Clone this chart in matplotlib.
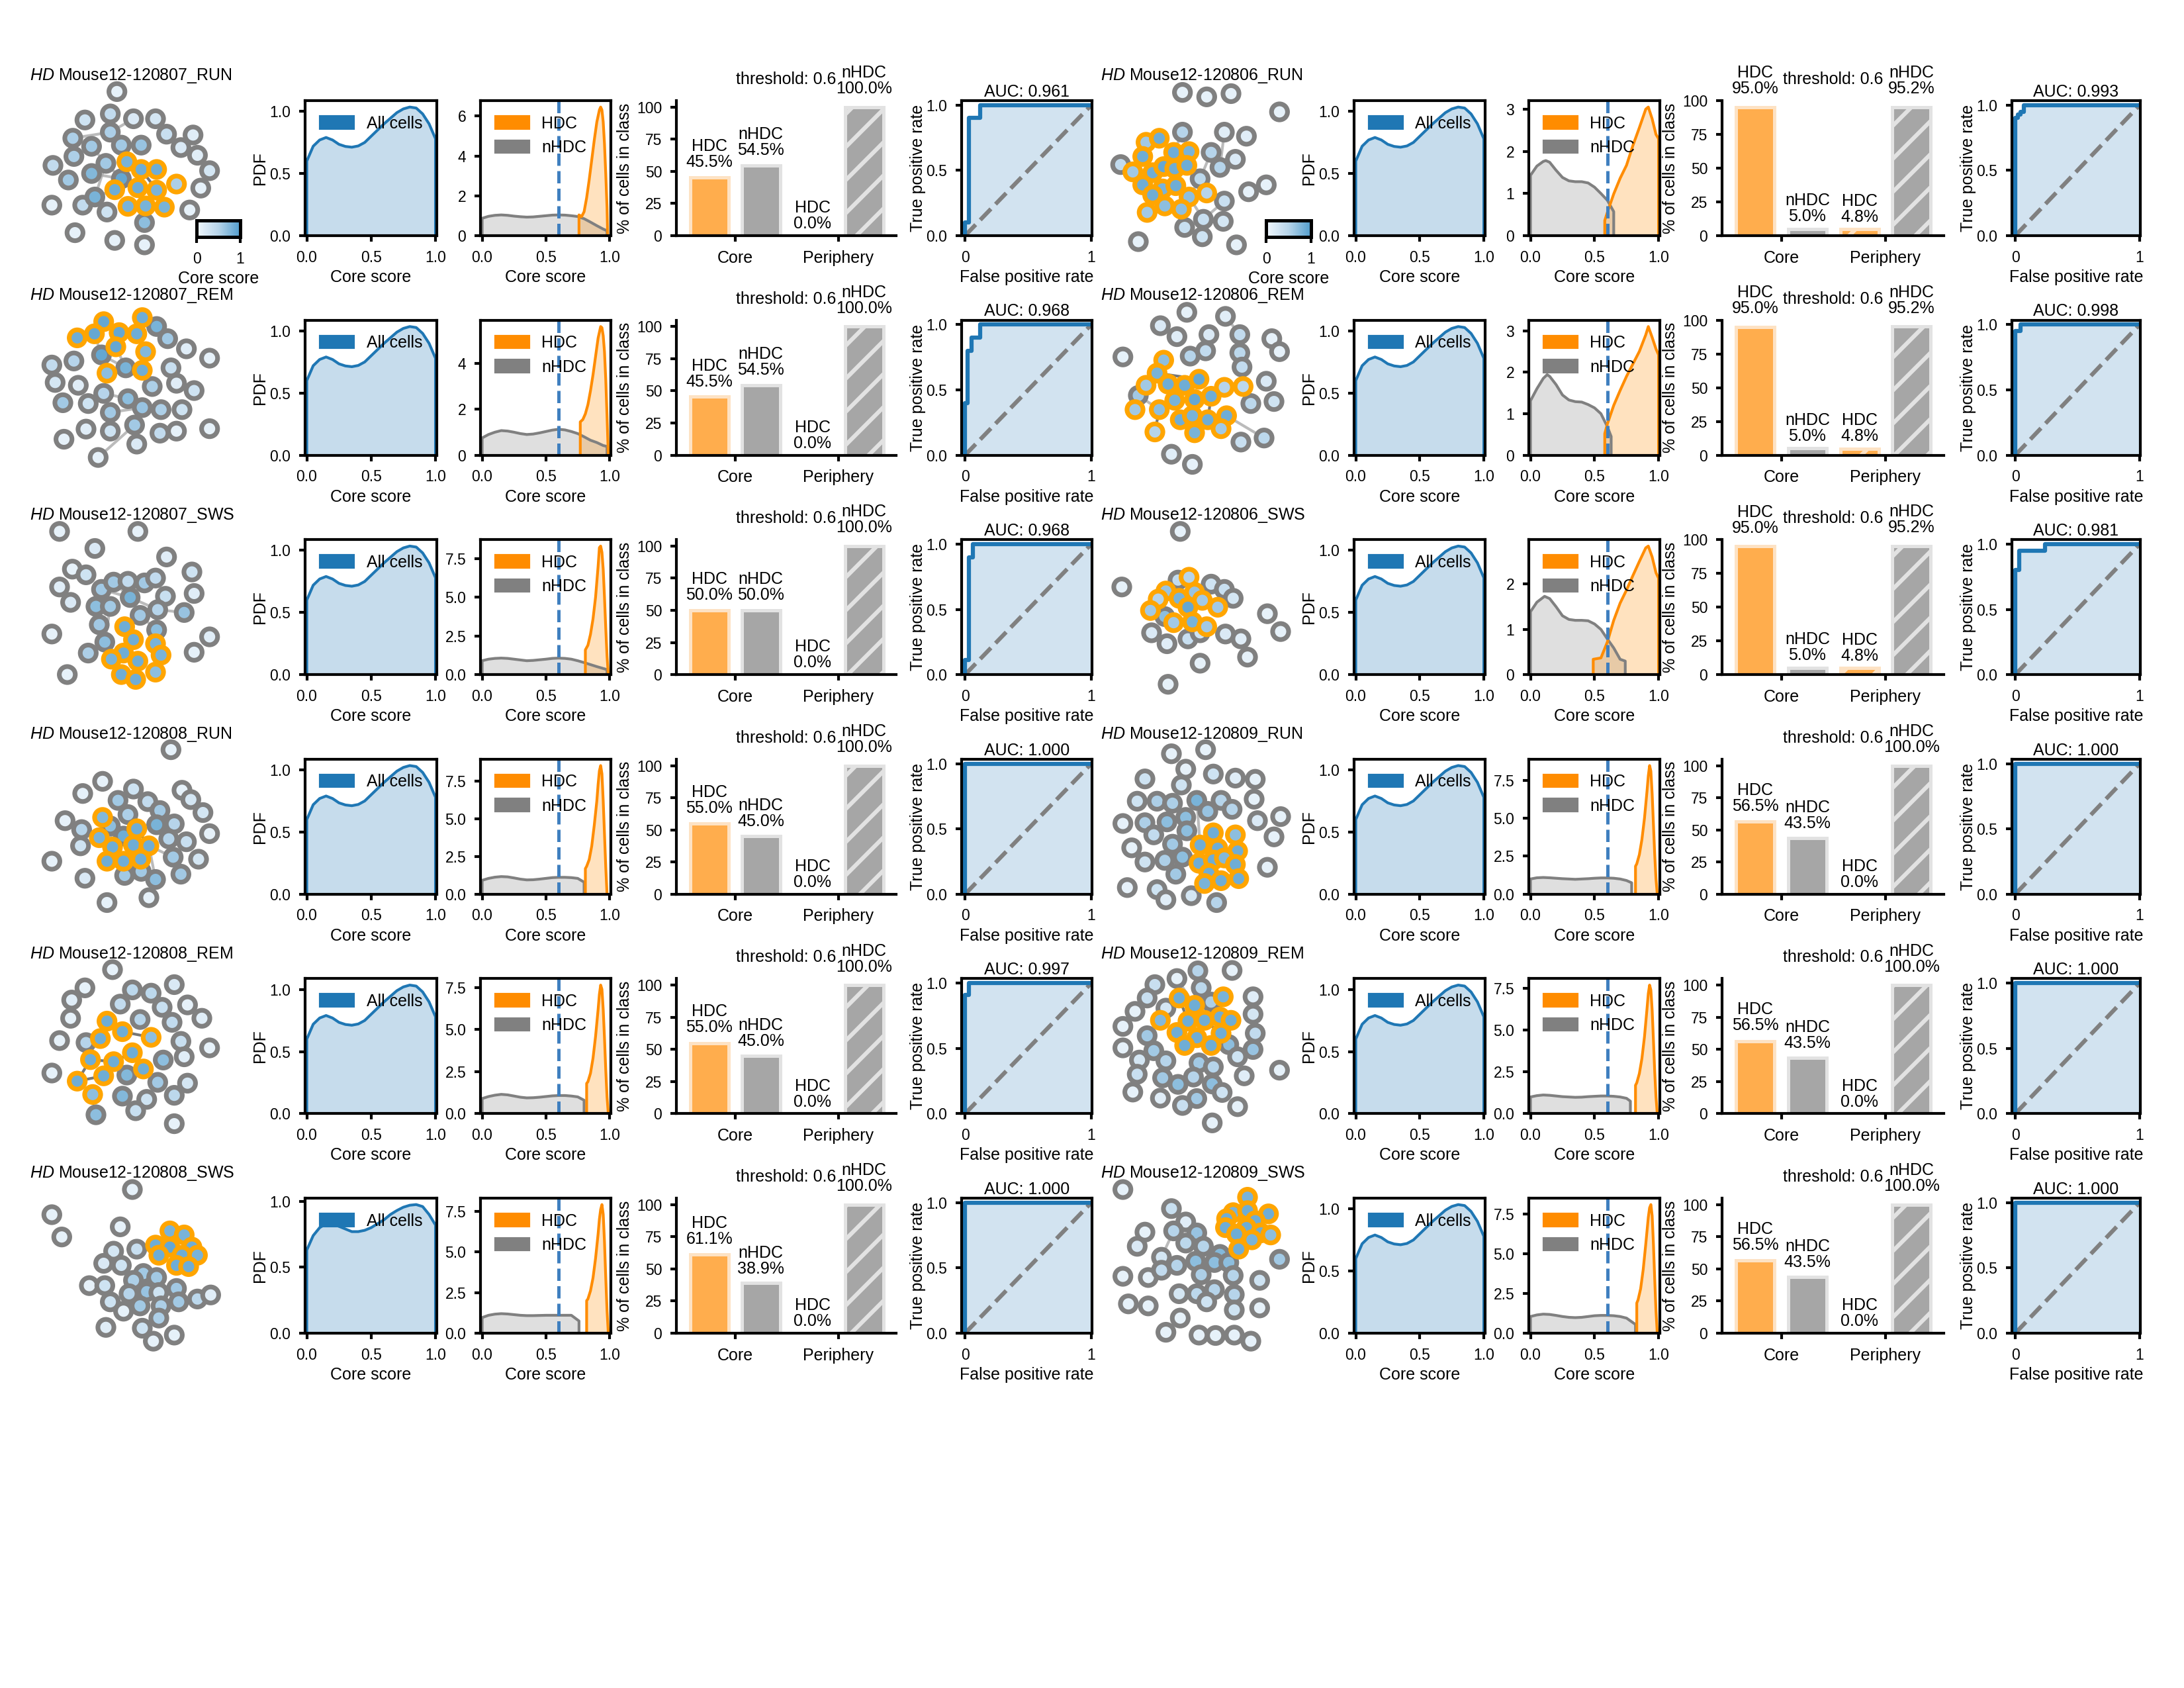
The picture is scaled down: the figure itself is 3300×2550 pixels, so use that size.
import matplotlib
matplotlib.use("Agg")
import matplotlib.pyplot as plt
import numpy as np
from matplotlib.colors import LinearSegmentedColormap, Normalize
from matplotlib.patches import Patch
from matplotlib.ticker import MaxNLocator
import matplotlib.cm as cm

plt.rcParams["font.family"] = ["Liberation Sans", "DejaVu Sans"]
plt.rcParams["font.size"] = 6
plt.rcParams["mathtext.fontset"] = "custom"
plt.rcParams["mathtext.it"] = "Liberation Sans:italic"
plt.rcParams["mathtext.rm"] = "Liberation Sans"
plt.rcParams["axes.linewidth"] = 1.0
plt.rcParams["hatch.linewidth"] = 1.5
for a in ("xtick", "ytick"):
    plt.rcParams[f"{a}.major.width"] = 1.0
    plt.rcParams[f"{a}.major.size"] = 2.2
    plt.rcParams[f"{a}.major.pad"] = 3.0
    plt.rcParams[f"{a}.labelsize"] = 5.5

# ── colori ───────────────────────────────────────────────────────────────────
C_BLUE = "#1f77b4"
C_ORANGE = "#ff8c00"
C_GRAY = "#808080"
C_NODE_HDC = "#ffa500"
C_THR = "#3f7fbf"
NODE_CMAP = LinearSegmentedColormap.from_list(
    "core", [plt.cm.Blues(0.03), plt.cm.Blues(0.3), plt.cm.Blues(0.58)])

# ── dati ─────────────────────────────────────────────────────────────────────
SESSIONS_LEFT = ["Mouse12-120807_RUN", "Mouse12-120807_REM", "Mouse12-120807_SWS",
                 "Mouse12-120808_RUN", "Mouse12-120808_REM", "Mouse12-120808_SWS"]
SESSIONS_RIGHT = ["Mouse12-120806_RUN", "Mouse12-120806_REM", "Mouse12-120806_SWS",
                  "Mouse12-120809_RUN", "Mouse12-120809_REM", "Mouse12-120809_SWS"]

THRESHOLD = 0.6

# % celle: (HDC core, nHDC core, HDC periferia, nHDC periferia)
BARS_LEFT = [(45.5, 54.5, 0.0, 100.0), (45.5, 54.5, 0.0, 100.0), (50.0, 50.0, 0.0, 100.0),
             (55.0, 45.0, 0.0, 100.0), (55.0, 45.0, 0.0, 100.0), (61.1, 38.9, 0.0, 100.0)]
BARS_RIGHT = [(95.0, 5.0, 4.8, 95.2), (95.0, 5.0, 4.8, 95.2), (95.0, 5.0, 4.8, 95.2),
              (56.5, 43.5, 0.0, 100.0), (56.5, 43.5, 0.0, 100.0), (56.5, 43.5, 0.0, 100.0)]

AUC_LEFT = [0.961, 0.968, 0.968, 1.000, 0.997, 1.000]
AUC_RIGHT = [0.993, 0.998, 0.981, 1.000, 1.000, 1.000]

ROC_FPR_LEFT = [[0, 0, .03, .03, .12, .12, 1], [0, 0, .02, .02, .05, .05, .12, .12, 1],
                [0, 0, .03, .03, .06, .06, 1], [0, 0, 1], [0, 0, .03, .03, 1], [0, 0, 1]]
ROC_TPR_LEFT = [[0, .1, .1, .9, .9, 1, 1], [0, .4, .4, .8, .8, .9, .9, 1, 1],
                [0, .11, .11, .9, .9, 1, 1], [0, 1, 1], [0, .91, .91, 1, 1], [0, 1, 1]]
ROC_FPR_RIGHT = [[0, 0, .02, .02, .04, .04, .07, .07, 1], [0, 0, .04, .04, 1],
                 [0, 0, .03, .03, .24, .24, 1], [0, 0, 1], [0, 0, 1], [0, 0, 1]]
ROC_TPR_RIGHT = [[0, .9, .9, .93, .93, .95, .95, 1, 1], [0, .95, .95, 1, 1],
                 [0, .8, .8, .95, .95, 1, 1], [0, 1, 1], [0, 1, 1], [0, 1, 1]]

# PDF core score (tutte le cellule)
PDF_X = [0, .05, .1, .15, .2, .25, .3, .35, .4, .45, .5, .55, .6, .65, .7, .75, .8, .85, .9, .95, 1.0]
PDF_ALL = [.60, .72, .77, .79, .77, .735, .718, .712, .722, .75, .80, .85, .90, .945, .99,
           1.02, 1.035, 1.027, .98, .90, .78]
PDF_120808_SWS = [.63, .74, .80, .83, .83, .81, .79, .77, .77, .78, .80, .83, .86, .90, .93,
                  .955, .97, .975, .96, .90, .82]
PDF_LEFT = [PDF_ALL, PDF_ALL, PDF_ALL, PDF_ALL, PDF_ALL, PDF_120808_SWS]
PDF_RIGHT = [PDF_ALL] * 6

# KDE nHDC (grigio) / HDC (arancio)
GRID_A = [0, .05, .1, .15, .2, .25, .3, .35, .4, .45, .5, .55, .6, .65, .7, .75, .8, .85, .9, .95, .98]
GRID_B = [0, .05, .1, .15, .2, .25, .3, .35, .4, .45, .5, .55, .6, .65, .7, .75, .8]

NHDC_X_LEFT = [GRID_A, GRID_A, GRID_A, GRID_B, GRID_B,
               [0, .05, .1, .15, .2, .25, .3, .35, .4, .45, .5, .55, .6, .65, .7, .76]]
NHDC_Y_LEFT = [
    [.87, .97, 1.02, 1.04, 1.02, .98, .95, .93, .94, .97, 1.0, 1.03, 1.04, 1.03, 1.0, .96, .85, .68, .5, .33, .25],
    [.75, .9, 1.0, 1.07, 1.05, 1.0, .94, .9, .92, .97, 1.03, 1.09, 1.13, 1.1, 1.03, .94, .8, .65, .55, .42, .38],
    [.9, 1.0, 1.05, 1.07, 1.05, 1.0, .95, .9, .92, .96, 1.0, 1.05, 1.07, 1.05, 1.0, .9, .78, .65, .52, .4, .33],
    [.92, 1.05, 1.13, 1.17, 1.15, 1.08, 1.0, .95, .96, 1.0, 1.05, 1.1, 1.12, 1.12, 1.1, 1.05, .8],
    [.9, 1.02, 1.1, 1.15, 1.12, 1.05, .98, .94, .95, .98, 1.02, 1.06, 1.08, 1.08, 1.05, 1.0, .8],
    [.96, 1.1, 1.17, 1.2, 1.18, 1.14, 1.1, 1.08, 1.08, 1.09, 1.1, 1.1, 1.1, 1.1, 1.1, .75],
]
HDC_X_LEFT = [
    [.76, .77, .78, .80, .82, .84, .86, .88, .90, .92, .93, .94, .95, .96, .97, .98, .985],
    [.77, .79, .81, .83, .85, .87, .89, .91, .93, .94, .95, .96, .97, .98, .99],
    [.81, .83, .85, .87, .89, .91, .92, .93, .94, .95, .96, .97, .98, .99],
    [.81, .82, .84, .86, .88, .90, .91, .92, .93, .94, .95, .96, .97, .98],
    [.82, .83, .85, .87, .89, .91, .92, .93, .94, .95, .96, .97, .98, .99],
    [.82, .83, .85, .87, .89, .91, .92, .93, .94, .95, .96, .97, .98, .99],
]
HDC_Y_LEFT = [
    [1.04, 1.0, .95, 1.2, 1.9, 2.8, 3.8, 4.8, 5.7, 6.3, 6.45, 6.3, 5.7, 4.6, 3.1, 1.4, 0],
    [1.45, 1.55, 1.8, 2.2, 2.8, 3.5, 4.3, 5.1, 5.6, 5.55, 5.2, 4.5, 3.3, 1.7, 0],
    [1.6, 1.9, 2.6, 3.6, 5.0, 7.0, 8.2, 8.3, 7.9, 6.8, 5.0, 3.0, 1.2, 0],
    [1.7, 1.85, 2.3, 3.2, 4.6, 6.2, 7.3, 8.2, 8.55, 8.0, 6.2, 4.0, 1.8, 0],
    [1.8, 1.9, 2.4, 3.3, 4.6, 6.2, 7.1, 7.65, 7.4, 6.2, 4.5, 2.6, 1.0, 0],
    [2.0, 2.1, 2.6, 3.4, 4.6, 6.1, 7.0, 7.6, 7.9, 7.3, 5.6, 3.4, 1.4, 0],
]

NHDC_X_RIGHT = [
    [0, .05, .1, .12, .15, .2, .25, .3, .35, .4, .45, .5, .55, .6, .65],
    [0, .05, .1, .13, .15, .2, .25, .3, .35, .4, .45, .5, .55, .6, .63],
    [0, .05, .11, .15, .2, .25, .3, .35, .4, .45, .5, .55, .6, .65, .7, .74],
    [0, .05, .1, .15, .2, .25, .3, .35, .4, .45, .5, .55, .6, .65, .7, .75, .79],
    [0, .05, .1, .15, .2, .25, .3, .35, .4, .45, .5, .55, .6, .65, .7, .75, .78],
    [0, .05, .1, .15, .2, .25, .3, .35, .4, .45, .5, .55, .6, .65, .7, .75, .82],
]
NHDC_Y_RIGHT = [
    [1.43, 1.65, 1.76, 1.78, 1.74, 1.55, 1.38, 1.3, 1.28, 1.28, 1.25, 1.15, 1.0, .84, .57],
    [1.31, 1.6, 1.85, 1.94, 1.9, 1.7, 1.45, 1.33, 1.29, 1.28, 1.22, 1.14, 1.0, .69, .45],
    [1.39, 1.6, 1.73, 1.68, 1.5, 1.3, 1.22, 1.2, 1.2, 1.19, 1.12, 1.0, .79, .59, .34, .3],
    [1.0, 1.08, 1.1, 1.08, 1.05, 1.02, 1.0, .98, 1.0, 1.02, 1.05, 1.07, 1.07, 1.05, 1.0, .9, .75],
    [1.0, 1.08, 1.12, 1.1, 1.06, 1.02, 1.0, .98, .99, 1.02, 1.04, 1.06, 1.06, 1.04, 1.0, .92, .75],
    [1.05, 1.15, 1.2, 1.18, 1.12, 1.05, 1.0, .98, 1.0, 1.05, 1.1, 1.12, 1.12, 1.1, 1.05, .95, .55],
]
HDC_X_RIGHT = [
    [.58, .6, .65, .7, .75, .8, .85, .9, .92, .95, .98, 1.0],
    [.58, .6, .65, .7, .75, .8, .85, .9, .92, .95, .98, 1.0],
    [.49, .55, .6, .65, .7, .75, .8, .85, .9, .92, .95, .98, 1.0],
    [.82, .83, .85, .87, .89, .91, .92, .93, .94, .95, .96, .97, .98, .99],
    [.82, .83, .85, .87, .89, .91, .92, .93, .94, .95, .96, .97, .98, .99],
    [.83, .84, .86, .88, .90, .92, .93, .94, .95, .96, .97, .98, .99],
]
HDC_Y_RIGHT = [
    [.36, .55, .99, 1.36, 1.67, 2.14, 2.56, 3.0, 3.05, 2.77, 2.4, 2.3],
    [.52, .75, 1.2, 1.56, 1.9, 2.2, 2.5, 2.9, 3.1, 2.84, 2.56, 2.42],
    [.34, .37, .72, 1.2, 1.58, 1.87, 2.19, 2.5, 2.8, 2.84, 2.6, 2.25, 2.13],
    [1.84, 2.0, 2.6, 3.6, 5.0, 6.8, 7.8, 8.47, 8.1, 6.6, 4.6, 2.6, 1.0, 0],
    [1.7, 1.85, 2.4, 3.3, 4.6, 6.3, 7.2, 7.7, 7.4, 6.2, 4.4, 2.5, 1.0, 0],
    [1.9, 2.1, 2.8, 4.0, 5.6, 7.3, 7.9, 8.1, 7.4, 5.6, 3.4, 1.4, 0],
]

# grafi: (x layout, y layout, core score, HDC)
NET_120807_RUN = [
    (440, 30, .1, 0), (295, 100, .3, 0), (410, 85, .4, 0), (515, 97, .2, 0), (615, 97, .25, 0),
    (240, 145, .55, 0), (410, 130, .55, 0), (665, 135, .35, 0), (785, 137, .15, 0), (325, 165, .6, 0),
    (460, 162, .6, 0), (550, 162, .65, 0), (730, 168, .2, 0), (150, 212, .4, 0), (245, 190, .55, 0),
    (805, 187, .15, 0), (390, 207, .6, 0), (485, 203, .8, 1), (550, 222, .85, 1), (620, 222, .85, 1),
    (860, 225, .25, 0), (220, 248, .6, 0), (325, 232, .75, 0), (460, 245, .9, 0), (710, 258, .55, 1),
    (820, 268, .1, 0), (430, 272, .85, 1), (535, 267, .85, 1), (620, 273, .8, 1), (145, 310, .1, 0),
    (285, 310, .4, 0), (340, 290, .8, 0), (490, 313, .8, 1), (570, 312, .8, 1), (655, 315, .8, 1),
    (770, 322, .1, 0), (395, 327, .3, 0), (565, 353, .7, 0), (250, 378, .1, 0), (430, 397, .1, 0),
    (565, 408, .1, 0)]
EDGES_120807_RUN = [(5, 6), (6, 3), (9, 16), (16, 23), (22, 23), (23, 17), (23, 26), (31, 26),
                    (16, 31), (18, 28), (27, 37), (30, 31)]

NET_120807_REM = [
    (555, 588, .85, 1), (380, 598, .9, 1), (260, 638, .85, 1), (338, 628, .9, 1), (450, 625, .9, 1),
    (530, 628, .85, 1), (620, 610, .8, 0), (670, 640, .6, 0), (435, 660, .9, 1), (370, 680, .9, 0),
    (570, 672, .75, 1), (755, 665, .15, 0), (860, 688, .1, 0), (145, 705, .4, 0), (245, 695, .5, 0),
    (480, 712, .8, 0), (395, 725, .7, 1), (555, 718, .85, 1), (685, 712, .35, 0), (160, 748, .25, 0),
    (265, 755, .15, 0), (600, 758, .55, 0), (710, 750, .15, 0), (790, 768, .3, 0), (195, 798, .6, 0),
    (310, 800, .3, 0), (380, 775, .5, 0), (490, 788, .7, 0), (555, 810, .65, 0), (640, 815, .55, 0),
    (735, 815, .3, 0), (410, 822, .6, 0), (520, 853, .6, 0), (300, 863, .15, 0), (410, 868, .3, 0),
    (635, 873, .4, 0), (710, 868, .1, 0), (860, 862, .1, 0), (200, 888, .1, 0), (530, 900, .2, 0),
    (355, 933, .1, 0)]
EDGES_120807_REM = [(1, 3), (1, 4), (3, 9), (4, 5), (8, 15), (9, 15), (26, 27), (31, 28),
                    (32, 40), (27, 28), (2, 3)]

NET_120807_SWS = [
    (180, 1115, .1, 0), (535, 1115, .1, 0), (340, 1157, .2, 0), (665, 1178, .15, 0), (238, 1208, .1, 0),
    (300, 1222, .3, 0), (780, 1215, .3, 0), (180, 1252, .15, 0), (370, 1258, .6, 0), (425, 1240, .6, 0),
    (490, 1238, .4, 0), (565, 1242, .6, 0), (615, 1230, .4, 0), (500, 1278, .8, 0), (660, 1275, .35, 0),
    (790, 1268, .15, 0), (230, 1290, .2, 0), (345, 1300, .7, 0), (410, 1300, .6, 0), (625, 1308, .5, 0),
    (745, 1315, .65, 0), (545, 1322, .6, 0), (360, 1345, .6, 0), (475, 1350, .85, 1), (620, 1358, .7, 0),
    (145, 1368, .1, 0), (860, 1375, .15, 0), (385, 1388, .7, 0), (515, 1382, .85, 1), (615, 1392, .8, 1),
    (310, 1415, .55, 0), (470, 1415, .85, 1), (640, 1420, .8, 1), (790, 1413, .1, 0), (415, 1430, .8, 1),
    (535, 1435, .85, 1), (215, 1468, .1, 0), (460, 1468, .85, 1), (525, 1480, .85, 1), (615, 1462, .7, 1)]
EDGES_120807_SWS = [(9, 13), (10, 13), (8, 13), (13, 19), (19, 20), (13, 21), (21, 24), (23, 28),
                    (28, 31), (31, 35), (18, 27), (34, 37), (35, 38), (12, 14), (22, 27)]

NET_120808_RUN = [
    (685, 55, .1, 0), (375, 133, .1, 0), (285, 163, .1, 0), (515, 152, .3, 0), (735, 155, .1, 0),
    (445, 180, .6, 0), (580, 183, .4, 0), (775, 178, .25, 0), (490, 215, .55, 0), (635, 205, .6, 0),
    (830, 210, .25, 0), (205, 230, .1, 0), (375, 222, .75, 1), (410, 243, .7, 0), (620, 240, .8, 0),
    (700, 238, .5, 0), (280, 252, .5, 0), (530, 250, .85, 1), (860, 262, .1, 0), (360, 272, .8, 1),
    (470, 268, .85, 0), (675, 275, .5, 0), (755, 282, .35, 0), (275, 292, .3, 0), (420, 295, .85, 1),
    (515, 290, .85, 1), (585, 292, .85, 1), (145, 330, .1, 0), (395, 330, .85, 1), (470, 330, .85, 1),
    (548, 325, .85, 1), (695, 320, .6, 0), (810, 325, .25, 0), (295, 372, .2, 0), (475, 365, .6, 0),
    (550, 355, .6, 0), (615, 375, .7, 0), (730, 362, .6, 0), (395, 432, .1, 0), (585, 420, .1, 0)]
EDGES_120808_RUN = [(13, 20), (20, 17), (17, 26), (26, 31), (26, 36), (19, 20), (25, 30), (12, 13),
                    (31, 37)]

NET_120808_REM = [
    (420, 595, .1, 0), (295, 640, .1, 0), (510, 645, .45, 0), (595, 653, .45, 0), (700, 632, .2, 0),
    (235, 670, .15, 0), (455, 680, .4, 0), (645, 688, .35, 0), (760, 682, .1, 0), (230, 715, .1, 0),
    (395, 722, .85, 1), (545, 718, .5, 0), (690, 725, .4, 0), (825, 715, .15, 0), (465, 748, .85, 1),
    (595, 762, .7, 1), (180, 770, .1, 0), (300, 775, .5, 0), (365, 765, .85, 1), (730, 772, .35, 0),
    (860, 788, .1, 0), (510, 800, .85, 1), (320, 817, .85, 1), (425, 822, .85, 1), (650, 818, .7, 0),
    (745, 810, .15, 0), (145, 850, .1, 0), (485, 855, .75, 0), (560, 840, .85, 1), (380, 857, .85, 1),
    (260, 870, .85, 1), (625, 873, .6, 0), (760, 875, .25, 0), (330, 903, .7, 1), (465, 907, .75, 0),
    (575, 915, .3, 0), (700, 905, .45, 0), (525, 943, .35, 0), (345, 953, .7, 0), (700, 975, .1, 0)]
EDGES_120808_REM = [(14, 15), (21, 23), (23, 27), (27, 28), (21, 28), (29, 30), (22, 30), (22, 23),
                    (18, 17)]

NET_120808_SWS = [
    (510, 1138, .1, 0), (145, 1200, .1, 0), (455, 1230, .1, 0), (190, 1255, .1, 0), (680, 1240, .8, 1),
    (745, 1250, .8, 1), (615, 1275, .85, 1), (680, 1280, .9, 1), (425, 1290, .25, 0), (530, 1285, .35, 0),
    (780, 1280, .85, 1), (630, 1300, .85, 1), (735, 1300, .85, 1), (805, 1300, .8, 1), (380, 1320, .2, 0),
    (460, 1325, .3, 0), (710, 1325, .85, 1), (765, 1328, .85, 1), (560, 1345, .6, 0), (620, 1355, .6, 0),
    (515, 1362, .55, 0), (315, 1375, .1, 0), (385, 1375, .3, 0), (710, 1382, .6, 0), (495, 1395, .5, 0),
    (575, 1390, .65, 0), (630, 1392, .3, 0), (805, 1408, .45, 0), (865, 1398, .15, 0), (410, 1415, .3, 0),
    (545, 1425, .6, 0), (640, 1425, .55, 0), (720, 1415, .6, 0), (470, 1438, .1, 0), (630, 1455, .55, 0),
    (390, 1478, .15, 0), (555, 1480, .3, 0), (700, 1497, .1, 0), (605, 1512, .1, 0)]
EDGES_120808_SWS = [(4, 7), (7, 12), (6, 11), (18, 25), (20, 25), (25, 31), (24, 30), (12, 16)]

NET_120806_RUN = [
    (410, 32, .1, 0), (520, 43, .1, 0), (630, 35, .1, 0), (850, 80, .1, 0), (410, 130, .5, 0),
    (600, 130, .15, 0), (700, 140, .15, 0), (245, 155, .6, 1), (305, 145, .85, 1), (130, 210, .4, 0),
    (230, 190, .85, 1), (370, 180, .85, 1), (440, 178, .8, 1), (540, 180, .5, 0), (650, 197, .2, 0),
    (185, 228, .6, 1), (275, 230, .85, 1), (325, 215, .9, 1), (375, 220, .85, 1), (430, 212, .85, 1),
    (580, 217, .5, 0), (490, 245, .45, 0), (230, 260, .85, 1), (320, 270, .8, 1), (380, 262, .85, 1),
    (790, 260, .1, 0), (710, 277, .1, 0), (275, 285, .85, 1), (440, 290, .7, 1), (520, 280, .5, 1),
    (600, 300, .35, 0), (250, 328, .6, 1), (330, 312, .7, 1), (405, 320, .7, 1), (505, 345, .35, 0),
    (595, 350, .25, 0), (420, 365, .35, 0), (500, 388, .3, 0), (210, 400, .1, 0), (655, 408, .1, 0)]
EDGES_120806_RUN = [(4, 11), (5, 20), (13, 21), (21, 28), (28, 34), (34, 35), (30, 34), (8, 11),
                    (16, 17), (10, 16), (24, 28)]

NET_120806_REM = [
    (430, 575, .1, 0), (605, 585, .15, 0), (310, 608, .2, 0), (385, 635, .15, 0), (530, 630, .2, 0),
    (670, 630, .4, 0), (815, 640, .1, 0), (850, 672, .1, 0), (140, 685, .1, 0), (445, 683, .5, 0),
    (515, 670, .4, 0), (670, 675, .45, 0), (680, 710, .4, 0), (325, 693, .7, 1), (295, 725, .8, 1),
    (245, 755, .6, 1), (345, 752, .85, 1), (420, 755, .85, 1), (485, 740, .9, 1), (600, 760, .5, 1),
    (685, 758, .45, 1), (210, 780, .6, 0), (375, 792, .8, 1), (465, 790, .9, 1), (540, 782, .85, 1),
    (790, 745, .2, 0), (720, 800, .45, 0), (825, 795, .3, 0), (195, 815, .6, 1), (305, 815, .7, 1),
    (400, 840, .85, 1), (455, 830, .8, 1), (525, 840, .85, 1), (610, 830, .85, 1), (285, 870, .5, 1),
    (465, 872, .8, 1), (585, 862, .6, 1), (675, 895, .35, 0), (780, 885, .45, 0), (360, 925, .15, 0),
    (455, 950, .1, 0)]
EDGES_120806_REM = [(1, 5), (14, 18), (16, 22), (15, 21), (21, 29), (29, 34), (24, 32), (33, 38),
                    (23, 31), (17, 23), (22, 30)]

NET_120806_SWS = [
    (400, 1115, .1, 0), (135, 1252, .1, 0), (390, 1235, .4, 0), (440, 1228, .5, 1), (540, 1245, .3, 0),
    (335, 1262, .65, 1), (600, 1258, .35, 0), (300, 1282, .5, 1), (395, 1280, .8, 1), (465, 1265, .65, 1),
    (640, 1280, .25, 0), (500, 1285, .6, 1), (265, 1310, .6, 1), (435, 1302, .9, 1), (570, 1302, .6, 1),
    (330, 1325, .7, 0), (370, 1340, .6, 1), (455, 1338, .8, 1), (520, 1350, .6, 1), (795, 1318, .1, 0),
    (270, 1365, .2, 0), (435, 1380, .35, 0), (490, 1365, .3, 0), (605, 1368, .2, 0), (855, 1362, .1, 0),
    (340, 1392, .15, 0), (675, 1380, .15, 0), (705, 1425, .1, 0), (490, 1440, .1, 0), (345, 1492, .1, 0)]
EDGES_120806_SWS = [(8, 13), (13, 17), (9, 11), (2, 8)]

NET_120809_RUN = [
    (360, 65, .1, 0), (515, 55, .1, 0), (425, 103, .1, 0), (240, 127, .3, 0), (550, 115, .3, 0),
    (650, 125, .15, 0), (740, 128, .1, 0), (405, 142, .3, 0), (205, 182, .3, 0), (295, 182, .55, 0),
    (365, 187, .55, 0), (475, 180, .8, 0), (585, 180, .5, 0), (735, 177, .1, 0), (525, 207, .65, 0),
    (635, 202, .5, 0), (140, 237, .1, 0), (240, 235, .55, 0), (340, 233, .7, 0), (425, 222, .7, 0),
    (750, 230, .2, 0), (855, 220, .1, 0), (280, 265, .4, 0), (430, 255, .7, 0), (550, 260, .85, 1),
    (650, 265, .7, 1), (825, 270, .1, 0), (180, 297, .1, 0), (365, 288, .6, 0), (490, 290, .85, 1),
    (570, 298, .85, 1), (660, 305, .85, 1), (240, 332, .3, 0), (330, 328, .55, 0), (410, 320, .7, 0),
    (485, 335, .85, 1), (550, 327, .85, 1), (600, 322, .75, 1), (650, 338, .85, 1), (795, 345, .1, 0),
    (380, 362, .6, 0), (530, 360, .85, 1), (510, 385, .8, 1), (585, 378, .85, 1), (665, 373, .85, 1),
    (160, 395, .1, 0), (295, 400, .3, 0), (335, 425, .15, 0), (450, 415, .25, 0), (565, 432, .5, 0)]
EDGES_120809_RUN = [(11, 29), (29, 36), (36, 37), (41, 43), (37, 31), (30, 38)]

NET_120809_REM = [
    (480, 598, .5, 0), (635, 597, .1, 0), (385, 617, .1, 0), (285, 632, .35, 0), (495, 640, .45, 0),
    (250, 665, .35, 0), (395, 665, .85, 1), (465, 683, .85, 1), (540, 675, .55, 0), (595, 662, .8, 1),
    (730, 662, .15, 0), (335, 690, .25, 0), (195, 698, .1, 0), (730, 705, .25, 0), (140, 735, .1, 0),
    (310, 720, .75, 1), (435, 722, .85, 1), (510, 720, .85, 1), (580, 712, .85, 1), (630, 720, .85, 1),
    (250, 758, .6, 0), (385, 750, .85, 1), (475, 763, .85, 1), (585, 752, .85, 1), (740, 752, .4, 0),
    (140, 788, .1, 0), (280, 795, .6, 0), (420, 782, .85, 1), (540, 782, .85, 1), (620, 780, .7, 0),
    (730, 792, .65, 0), (215, 818, .25, 0), (335, 820, .5, 0), (485, 825, .6, 0), (550, 835, .5, 0),
    (660, 810, .3, 0), (850, 843, .1, 0), (205, 853, .35, 0), (320, 862, .6, 0), (390, 878, .7, 0),
    (460, 860, .5, 0), (545, 877, .7, 0), (690, 857, .15, 0), (185, 897, .1, 0), (590, 898, .3, 0),
    (310, 912, .15, 0), (475, 913, .6, 0), (410, 930, .35, 0), (660, 933, .1, 0), (545, 973, .1, 0)]
EDGES_120809_REM = [(6, 16), (16, 22), (22, 28), (17, 23), (2, 7)]

NET_120809_SWS = [
    (140, 1138, .1, 0), (705, 1157, .8, 1), (360, 1185, .35, 0), (640, 1195, .8, 1), (705, 1190, .85, 1),
    (800, 1198, .85, 1), (425, 1218, .15, 0), (610, 1210, .85, 1), (740, 1215, .85, 1), (240, 1243, .1, 0),
    (370, 1240, .5, 0), (475, 1245, .65, 0), (605, 1232, .85, 1), (700, 1232, .85, 1), (655, 1248, .85, 1),
    (765, 1245, .85, 1), (810, 1250, .7, 1), (205, 1278, .2, 0), (425, 1270, .45, 0), (505, 1278, .5, 0),
    (725, 1262, .8, 1), (665, 1285, .85, 1), (580, 1298, .75, 0), (315, 1305, .25, 0), (470, 1315, .7, 0),
    (555, 1318, .7, 0), (620, 1318, .7, 0), (850, 1310, .6, 0), (140, 1352, .1, 0), (255, 1355, .1, 0),
    (315, 1337, .4, 0), (385, 1325, .5, 0), (495, 1348, .55, 0), (640, 1350, .5, 0), (760, 1362, .3, 0),
    (395, 1395, .25, 0), (475, 1395, .45, 0), (555, 1385, .5, 0), (520, 1415, .3, 0), (645, 1397, .5, 0),
    (165, 1420, .1, 0), (255, 1425, .1, 0), (645, 1435, .3, 0), (760, 1430, .1, 0), (400, 1455, .1, 0),
    (335, 1490, .1, 0), (485, 1497, .1, 0), (560, 1498, .1, 0), (645, 1497, .1, 0), (720, 1512, .1, 0)]
EDGES_120809_SWS = [(10, 23), (24, 25), (25, 22), (22, 26), (13, 14), (7, 12)]

NETS_LEFT = [NET_120807_RUN, NET_120807_REM, NET_120807_SWS, NET_120808_RUN, NET_120808_REM, NET_120808_SWS]
EDGES_LEFT = [EDGES_120807_RUN, EDGES_120807_REM, EDGES_120807_SWS,
              EDGES_120808_RUN, EDGES_120808_REM, EDGES_120808_SWS]
NETS_RIGHT = [NET_120806_RUN, NET_120806_REM, NET_120806_SWS, NET_120809_RUN, NET_120809_REM, NET_120809_SWS]
EDGES_RIGHT = [EDGES_120806_RUN, EDGES_120806_REM, EDGES_120806_SWS,
               EDGES_120809_RUN, EDGES_120809_REM, EDGES_120809_SWS]
NET_YREF = [52, 594, 1135, 78, 617, 1159]   # riferimento verticale del layout per riga

# ── layout (pixel della figura 3300x2550) ────────────────────────────────────
W, H = 3300, 2550
ROW_TOP0, ROW_STEP, ROW_H = 152, 331.6, 204
GROUPS = [
    dict(net=(30, 410), pdf=(461, 660), kde=(726, 923), bar=(1022, 1354), roc=(1453, 1650),
         cbar=(297, 363), title=45),
    dict(net=(1650, 2030), pdf=(2046, 2244), kde=(2310, 2508), bar=(2602, 2937), roc=(3040, 3234),
         cbar=(1913, 1981), title=1663),
]

fig = plt.figure(figsize=(11, 8.5), dpi=300)


def add_ax(x0, x1, y0, y1):
    return fig.add_axes([x0 / W, 1 - y1 / H, (x1 - x0) / W, (y1 - y0) / H])


def nice_locator():
    return MaxNLocator(nbins=4, steps=[1, 2, 2.5, 5, 10])


def draw_network(ax, nodes, edges, yref):
    arr = np.array(nodes, dtype=float)
    x, y, c, hdc = arr.T
    for i, j in edges:
        col = "#555555" if (hdc[i] and hdc[j]) else "#aaaaaa"
        ax.plot([x[i], x[j]], [y[i], y[j]], color=col, lw=1.0, alpha=0.8, zorder=1)
    for mask, ec, z in ((hdc == 0, C_GRAY, 2), (hdc == 1, C_NODE_HDC, 3)):
        ax.scatter(x[mask], y[mask], s=5.8 ** 2, c=c[mask], cmap=NODE_CMAP, vmin=0, vmax=1,
                   edgecolors=ec, linewidths=1.7, zorder=z)
    ax.set_xlim(0, 1140)
    ax.set_ylim(yref + 428, yref - 52)
    ax.axis("off")


def draw_pdf(ax, y):
    xs = [PDF_X[0]] + PDF_X + [PDF_X[-1]]
    ys = [0] + y + [0]
    ax.fill_between(xs, ys, color=C_BLUE, alpha=0.25, lw=0)
    ax.plot(xs, ys, color=C_BLUE, lw=1.0)
    ax.set_xlim(-0.013, 1.01)
    ax.set_ylim(0, max(y) * 1.05)
    ax.set_xticks([0, 0.5, 1.0], ["0.0", "0.5", "1.0"])
    ax.set_yticks([0, 0.5, 1.0], ["0.0", "0.5", "1.0"])
    ax.set_xlabel("Core score", labelpad=1.5)
    ax.set_ylabel("PDF", labelpad=0.5)
    ax.legend(handles=[Patch(color=C_BLUE, label="All cells")], loc="upper left",
              frameon=False, fontsize=6)


def draw_kde(ax, gx, gy, ox, oy):
    gxs, gys = [gx[0]] + gx + [gx[-1]], [0] + gy + [0]
    oxs, oys = [ox[0]] + ox + [ox[-1]], [0] + oy + [0]
    ax.fill_between(gxs, gys, color=C_GRAY, alpha=0.25, lw=0)
    ax.fill_between(oxs, oys, color=C_ORANGE, alpha=0.25, lw=0)
    ax.plot(gxs, gys, color=C_GRAY, lw=1.0)
    ax.plot(oxs, oys, color=C_ORANGE, lw=1.0)
    ax.axvline(THRESHOLD, color=C_THR, ls="--", lw=1.2)
    ax.set_xlim(-0.013, 1.01)
    ax.set_ylim(0, max(max(gy), max(oy)) * 1.05)
    ax.set_xticks([0, 0.5, 1.0], ["0.0", "0.5", "1.0"])
    ax.yaxis.set_major_locator(nice_locator())
    ax.set_xlabel("Core score", labelpad=1.5)
    ax.legend(handles=[Patch(color=C_ORANGE, label="HDC"), Patch(color=C_GRAY, label="nHDC")],
              loc="upper left", frameon=False, fontsize=6)


def draw_bars(ax, vals):
    hdc_c, nhdc_c, hdc_p, nhdc_p = vals
    xpos = [-0.25, 0.25, 0.75, 1.25]
    heights = [hdc_c, nhdc_c, hdc_p, nhdc_p]
    names = ["HDC", "nHDC", "HDC", "nHDC"]
    faces = ["#ffad4d", "#a6a6a6", "#ffad4d", "#a6a6a6"]
    edges = ["#fde2c4", "#e2e2e2", "#fde2c4", "#e2e2e2"]
    hatches = [None, None, "//", "//"]
    for xp, h, fc, ec, ht, nm in zip(xpos, heights, faces, edges, hatches, names):
        ax.bar(xp, h, width=0.37, color=fc, edgecolor=ec, lw=1.2, hatch=ht)
        ax.text(xp, h * 1.05 + 3, f"{nm}\n{h:.1f}%", ha="center", va="bottom",
                fontsize=6, linespacing=1.0)
    ax.set_xlim(-0.57, 1.56)
    ax.set_ylim(0, max(heights) * 1.05)
    ax.set_xticks([0, 1], ["Core", "Periphery"])
    ax.set_yticks([0, 25, 50, 75, 100])
    ax.tick_params(axis="x", labelsize=6)
    ax.spines["top"].set_visible(False)
    ax.spines["right"].set_visible(False)
    ax.set_ylabel("% of cells in class", labelpad=1.5)
    ax.set_title(f"threshold: {THRESHOLD}", fontsize=6, pad=6)


def draw_roc(ax, fpr, tpr, auc):
    ax.fill_between(fpr, tpr, color=C_BLUE, alpha=0.2, lw=0)
    ax.plot([0, 1], [0, 1], ls="--", color=C_GRAY, lw=1.5)
    ax.plot(fpr, tpr, color=C_BLUE, lw=1.5)
    ax.set_xlim(-0.027, 1.005)
    ax.set_ylim(0, 1.034)
    ax.set_xticks([0, 1], ["0", "1"])
    ax.set_yticks([0, 0.5, 1.0], ["0.0", "0.5", "1.0"])
    ax.set_xlabel("False positive rate", labelpad=1.5)
    ax.set_ylabel("True positive rate", labelpad=0)
    ax.set_title(f"AUC: {auc:.3f}", fontsize=6, pad=1.5)


GROUP_DATA = [
    (SESSIONS_LEFT, NETS_LEFT, EDGES_LEFT, PDF_LEFT, NHDC_X_LEFT, NHDC_Y_LEFT, HDC_X_LEFT, HDC_Y_LEFT,
     BARS_LEFT, ROC_FPR_LEFT, ROC_TPR_LEFT, AUC_LEFT),
    (SESSIONS_RIGHT, NETS_RIGHT, EDGES_RIGHT, PDF_RIGHT, NHDC_X_RIGHT, NHDC_Y_RIGHT, HDC_X_RIGHT,
     HDC_Y_RIGHT, BARS_RIGHT, ROC_FPR_RIGHT, ROC_TPR_RIGHT, AUC_RIGHT),
]

for g, (lay, data) in enumerate(zip(GROUPS, GROUP_DATA)):
    sess, nets, edg, pdfs, gxs, gys, oxs, oys, bars, fprs, tprs, aucs = data
    for r in range(6):
        top = ROW_TOP0 + ROW_STEP * r
        bot = top + ROW_H

        fig.text(lay["title"] / W, 1 - (top - 37) / H, r"$\it{HD}$ " + sess[r],
                 fontsize=6, ha="left", va="center")

        ax_net = add_ax(lay["net"][0], lay["net"][1], top - 32, top + 262)
        draw_network(ax_net, nets[r], edg[r], NET_YREF[r])

        draw_pdf(add_ax(*lay["pdf"], top, bot), pdfs[r])
        draw_kde(add_ax(*lay["kde"], top, bot), gxs[r], gys[r], oxs[r], oys[r])
        draw_bars(add_ax(*lay["bar"], top, bot), bars[r])
        draw_roc(add_ax(*lay["roc"], top, bot), fprs[r], tprs[r], aucs[r])

        if r == 0:
            cax = add_ax(lay["cbar"][0], lay["cbar"][1], top + 181, top + 206)
            sm = cm.ScalarMappable(norm=Normalize(0, 1), cmap=NODE_CMAP)
            cb = fig.colorbar(sm, cax=cax, orientation="horizontal", ticks=[0, 1])
            cb.outline.set_linewidth(1.2)
            cb.ax.tick_params(labelsize=5.5, width=1.0, length=2.2)
            cb.set_label("Core score", fontsize=6, labelpad=1.5)

fig.savefig("out.png", dpi=300, facecolor="white")
